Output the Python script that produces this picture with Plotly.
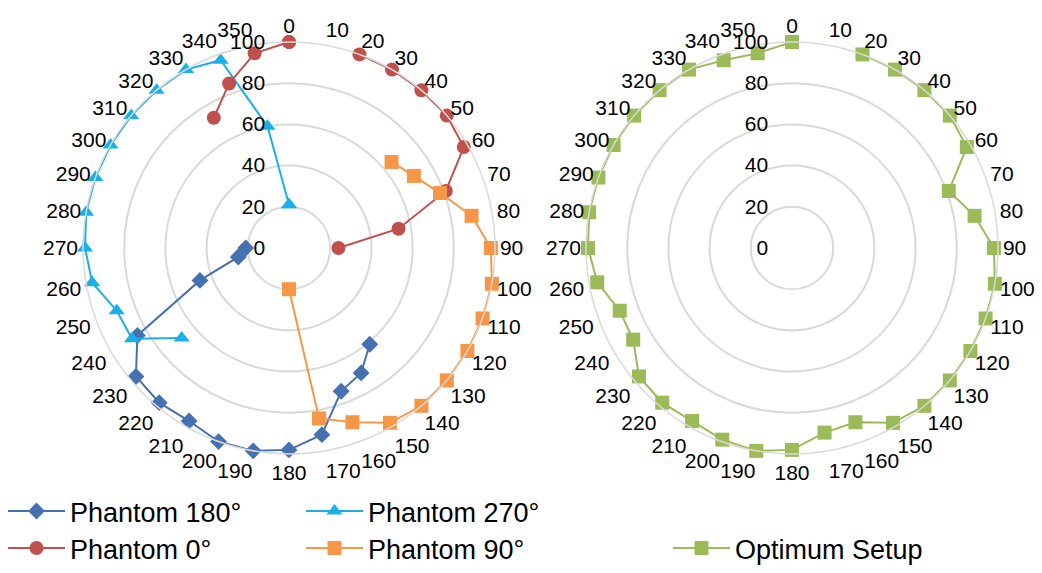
import plotly.graph_objects as go

angles = list(range(0, 360, 10))
angle_labels = [str(a) for a in angles]
radial_ticks = [0, 20, 40, 60, 80, 100]

N = None
# values at 0,10,...,350
phantom_180 = [N, N, N, N, N, N, N, N, N, N, N, N, N, N, 61, 70, 74, 92,
               98, 100, 100, 97, 98, 97, 85, 46, 25, 21, N, N, N, N, N, N, N, N]
phantom_270 = [21, N, N, N, N, N, N, N, N, N, N, N, N, N, N, N, N, N,
               N, N, N, N, N, 68, 88, 89, 97, 99, 100, 100, 100, 100, 100, 100, 97, 60]
phantom_0 = [100, N, 100, 100, 100, 100, 98, 81, 54, 24, N, N, N, N, N, N, N, N,
             N, N, N, N, N, N, N, N, N, N, N, N, N, N, N, 73, 85, 96]
phantom_90 = [N, N, N, N, N, 65, 70, 78, 90, 98, 100, 100, 100, 100, 100, 98, 90, 84,
              20, N, N, N, N, N, N, N, N, N, N, N, N, N, N, N, N, N]
optimum = [100, N, 100, 100, 100, 100, 98, 81, 90, 98, 100, 100, 100, 100, 100, 98, 90, 91,
           98, 100, 99, 97, 98, 97, 89, 89, 96, 99, 100, 100, 100, 100, 100, 100, 97, 96]

series_left = [
    ("Phantom 180°", phantom_180, "#4571B0", "diamond", 13, "legend"),
    ("Phantom 270°", phantom_270, "#1AAFE6", "triangle-up", 14, "legend2"),
    ("Phantom 0°", phantom_0, "#C0504D", "circle", 14, "legend3"),
    ("Phantom 90°", phantom_90, "#F79646", "square", 14, "legend4"),
]
series_right = [("Optimum Setup", optimum, "#9BBB59", "square", 14, "legend5")]

FONT = "Liberation Sans, Arial, sans-serif"
GRID = "#D9D9D9"

fig = go.Figure()


def closed(vals):
    return list(vals) + [vals[0]]


theta_closed = angles + [360]

for name, vals, color, sym, size, leg in series_left + series_right:
    fig.add_trace(go.Scatterpolar(
        r=closed(vals), theta=theta_closed, name=name, mode="lines+markers",
        line=dict(color=color, width=2), marker=dict(symbol=sym, size=size, color=color),
        connectgaps=False, subplot="polar2" if name == "Optimum Setup" else "polar",
        legend=leg, showlegend=True))

W, H = 1042, 573
R = 206
cy = 248


def dom(cx):
    return dict(x=[(cx - R) / W, (cx + R) / W], y=[(H - cy - R) / H, (H - cy + R) / H])


polar_common = dict(
    bgcolor="white",
    radialaxis=dict(range=[0, 100], tickvals=radial_ticks, angle=90, side="counterclockwise",
                    tickangle=90, showline=False, ticks="outside", ticklen=16,
                    tickcolor="rgba(0,0,0,0)", gridcolor=GRID, gridwidth=1.5,
                    tickfont=dict(family=FONT, size=21, color="#000")),
    angularaxis=dict(direction="clockwise", rotation=90, tickvals=angles, ticktext=angle_labels,
                     showgrid=False, showline=True, linecolor=GRID, linewidth=1.5,
                     ticks="", tickfont=dict(family=FONT, size=21, color="#000")),
)

fig.update_layout(
    width=W, height=H, margin=dict(l=0, r=0, t=0, b=0),
    paper_bgcolor="white", plot_bgcolor="white", showlegend=True,
    polar=dict(domain=dom(289), **polar_common),
    polar2=dict(domain=dom(792), **polar_common),
    font=dict(family=FONT, size=27, color="#000"),
)

leg_common = dict(bgcolor="rgba(0,0,0,0)", font=dict(family=FONT, size=27, color="#000"),
                  xanchor="left", yanchor="bottom", itemwidth=57)
row_gap = 37
pos = {"legend": (3, row_gap), "legend2": (301, row_gap), "legend3": (3, 0),
       "legend4": (301, 0), "legend5": (668, 0)}
for k, (px, py) in pos.items():
    fig.update_layout({k: dict(x=px / W, y=py / H, **leg_common)})

fig.write_html("out.html")
